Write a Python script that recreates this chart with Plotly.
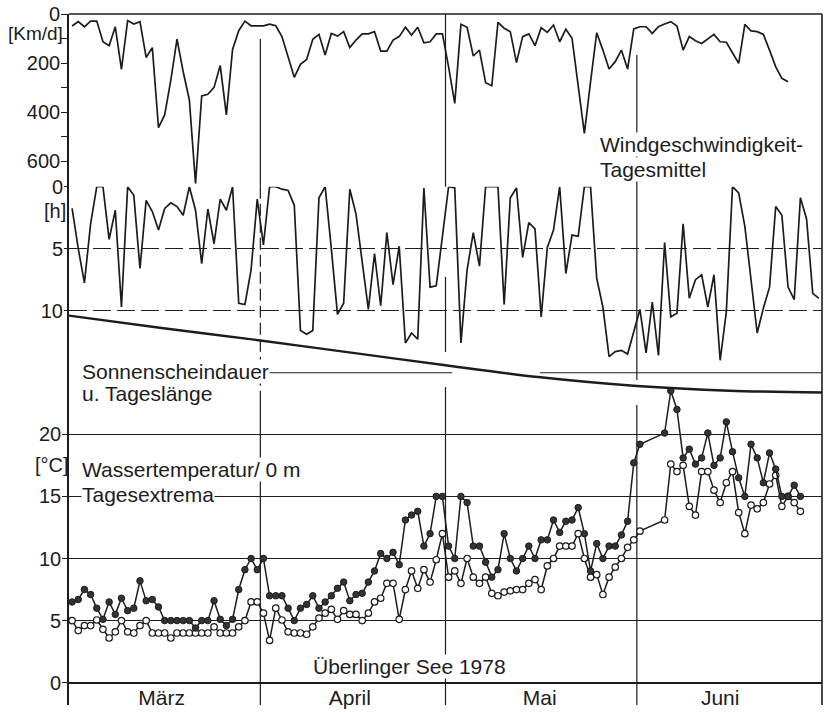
import plotly.graph_objects as go
from datetime import datetime, timedelta

W, H = 825, 712
INK = "#1c1c1c"
FONT = "Liberation Sans, Arial, sans-serif"

# ---- daily readings, one value per day from 1 March 1978 ----
first_day = datetime(1978, 3, 1, 12)

wind_km_per_day = [
    49, 31, 52, 29, 29, 113, 129, 52, 225, 27,
    41, 31, 177, 137, 463, 411, 269, 102, 235, 350,
    690, 334, 327, 299, 210, 411, 144, 68, 29, 48,
    48, 48, 41, 48, 92, 174, 258, 205, 185, 103,
    83, 167, 79, 90, 72, 137, 106, 81, 81, 72,
    151, 151, 106, 92, 54, 86, 54, 117, 113, 81,
    81, 215, 364, 42, 54, 171, 147, 280, 292, 34,
    58, 72, 198, 92, 81, 129, 56, 75, 45, 113,
    62, 99, 296, 486, 276, 76, 147, 224, 194, 147,
    224, 61, 52, 52, 79, 52, 41, 31, 49, 147,
    92, 109, 120, 103, 83, 113, 115, 158, 201, 42,
    69, 72, 83, 147, 215, 262, 276,
]

sunshine_hours = [
    1.75, 5.0, 7.75, 3.0, 0, 0, 4.25, 1.9, 9.7, 0,
    0.7, 6.6, 1.1, 2.0, 3.5, 1.75, 1.3, 1.6, 2.3, 0,
    1.9, 6.2, 1.8, 4.6, 1.0, 1.9, 0, 9.4, 9.5, 6.7,
    1.0, 4.7, 0, 0, 0.2, 0.3, 1.5, 11.6, 11.9, 11.6,
    0.9, 0, 5.0, 10.3, 9.4, 0.2, 2.2, 6.0, 9.9, 5.4,
    9.6, 3.7, 7.9, 4.8, 12.6, 11.8, 12.3, 0.1, 8.1, 8.0,
    4.0, 0, 0.1, 12.6, 6.7, 3.7, 6.4, 0, 0, 0,
    9.5, 0.9, 0.1, 5.7, 2.9, 3.4, 10.5, 4.9, 3.5, 0,
    7.0, 3.9, 4.0, 0, 0, 7.4, 9.7, 13.7, 13.3, 13.2,
    13.5, 11.8, 9.9, 13.4, 9.3, 13.6, 4.5, 10.5, 10.2, 3.0,
    9.0, 7.5, 7.1, 9.7, 7.1, 14.0, 10.1, 0, 0.5, 3.2,
    7.5, 11.8, 9.8, 8.1, 1.6, 2.3, 8.1, 9.1, 0.9, 2.6,
    8.6, 9.0,
]

water_temp_max = [
    6.5, 6.7, 7.5, 7.1, 6.0, 5.1, 6.5, 5.5, 6.8, 5.8,
    6.0, 8.2, 6.6, 6.7, 6.1, 5.0, 5.0, 5.0, 5.0, 5.0,
    4.4, 5.0, 5.0, 6.6, 5.1, 4.6, 5.1, 7.5, 9.1, 10.0,
    9.1, 10.0, 7.0, 7.0, 7.0, 6.0, 5.0, 6.0, 6.3, 7.0,
    6.0, 6.5, 7.0, 7.6, 8.1, 6.6, 7.1, 7.2, 8.1, 9.0,
    10.4, 10.0, 10.5, 9.5, 13.1, 13.5, 13.8, 11.0, 12.0, 15.0,
    15.0, 11.0, 10.0, 15.0, 14.5, 11.0, 11.0, 9.7, 8.5, 9.1,
    12.0, 10.0, 9.0, 10.0, 11.0, 10.0, 11.5, 11.5, 13.1, 12.1,
    13.0, 13.1, 14.1, 12.0, 9.0, 11.2, 10.0, 11.0, 11.0, 11.9,
    13.0, 17.7, 19.2, None, None, None, 20.1, 23.5, 22.0, 18.1,
    18.8, 17.6, 18.1, 20.1, 17.5, 18.1, 21.0, 18.6, 16.5, 15.0,
    19.2, 18.1, 16.1, 18.5, 17.2, 15.0, 15.0, 15.9, 15.0,
]

water_temp_min = [
    5.0, 4.2, 4.6, 4.6, 5.05, 4.3, 3.6, 4.1, 5.0, 4.1,
    4.0, 4.6, 5.0, 4.0, 4.0, 4.0, 3.6, 4.0, 4.0, 4.0,
    4.0, 4.0, 4.0, 4.5, 4.0, 4.0, 4.0, 4.5, 5.0, 6.5,
    6.5, 5.6, 3.4, 6.0, 5.05, 4.1, 4.0, 4.0, 3.9, 4.5,
    5.2, 5.6, 5.9, 5.1, 5.8, 5.5, 5.5, 5.0, 5.6, 6.5,
    6.8, 8.0, 8.0, 5.1, 7.5, 9.0, 7.6, 9.1, 8.1, 9.9,
    12.0, 8.5, 9.0, 8.0, 10.0, 8.5, 8.0, 8.5, 7.2, 7.0,
    7.3, 7.4, 7.5, 7.5, 8.0, 8.3, 7.5, 9.4, 10.0, 11.0,
    11.0, 11.0, 12.0, 10.0, 8.5, 8.7, 7.1, 8.5, 9.3, 10.0,
    10.9, 11.5, 12.2, None, None, None, 13.1, 17.6, 17.0, 17.5,
    14.2, 13.5, 17.0, 17.0, 15.5, 14.5, 16.1, 17.0, 13.7, 12.0,
    14.3, 14.0, 14.5, 16.0, 16.7, 14.2, 15.0, 14.5, 13.8,
]

# day length (hours) read at the start and middle of each month
day_length_dates = ["1978-03-01", "1978-03-16", "1978-04-01", "1978-04-16",
                    "1978-05-01", "1978-05-16", "1978-06-01", "1978-06-16",
                    "1978-07-01"]
day_length_hours = [10.4, 11.4, 12.4, 13.4, 14.4, 15.35, 16.07, 16.45, 16.6]

month_starts = ["1978-04-01", "1978-05-01", "1978-06-01"]
month_labels = ["März", "April", "Mai", "Juni"]
month_label_at = ["1978-03-16", "1978-04-15 12:00", "1978-05-16 06:00",
                  "1978-06-14 12:00"]

wind_ticks = [0, 100, 200, 300, 400, 500, 600]
wind_ticktext = ["0", "", "200", "", "400", "", "600"]
sun_ticks = [0, 5, 10]
temp_ticks = [0, 5, 10, 15, 20]


def days(values):
    return [first_day + timedelta(days=i) for i in range(len(values))]


# ---- page geometry (pixels) ----
X_LEFT, X_RIGHT = 69, 822
Y_TOP, Y_SPLIT, Y_ZERO, Y_BOTTOM = 14, 186.7, 682.7, 705
WIND_PX = 0.2456      # px per km/d
HOUR_PX = 12.4        # px per hour of sunshine
DEG_PX = 12.42        # px per degree C


def fx(px):
    return px / W


def fy(py):
    return 1 - py / H


fig = go.Figure()

line_style = dict(color=INK, width=1.7)

fig.add_trace(go.Scatter(x=days(wind_km_per_day), y=wind_km_per_day,
                         mode="lines", line=line_style, yaxis="y",
                         hoverinfo="skip"))
fig.add_trace(go.Scatter(x=days(sunshine_hours), y=sunshine_hours,
                         mode="lines", line=line_style, yaxis="y3",
                         hoverinfo="skip"))
fig.add_trace(go.Scatter(x=day_length_dates, y=day_length_hours,
                         mode="lines", line=dict(color=INK, width=2.4,
                                                 shape="spline", smoothing=0.8),
                         yaxis="y3", hoverinfo="skip"))
fig.add_trace(go.Scatter(x=days(water_temp_min), y=water_temp_min,
                         mode="lines+markers", connectgaps=True,
                         line=dict(color=INK, width=1.5),
                         marker=dict(symbol="circle", size=6.5, color="white",
                                     line=dict(color=INK, width=1.2)),
                         yaxis="y2", hoverinfo="skip"))
fig.add_trace(go.Scatter(x=days(water_temp_max), y=water_temp_max,
                         mode="lines+markers", connectgaps=True,
                         line=dict(color=INK, width=1.5),
                         marker=dict(symbol="circle", size=6.5, color="#333333",
                                     line=dict(color=INK, width=1)),
                         yaxis="y2", hoverinfo="skip"))

shapes = []
# frame: top edge and right edge
shapes.append(dict(type="line", xref="paper", yref="paper",
                   x0=fx(X_LEFT), x1=fx(X_RIGHT), y0=fy(Y_TOP), y1=fy(Y_TOP),
                   line=dict(color=INK, width=1.6)))
shapes.append(dict(type="line", xref="paper", yref="paper",
                   x0=fx(X_RIGHT), x1=fx(X_RIGHT), y0=fy(Y_TOP), y1=fy(Y_BOTTOM),
                   line=dict(color=INK, width=1.6)))

# month separators, drawn per panel
separator_runs = {
    "1978-04-01": [(39, Y_SPLIT, "solid"), (Y_SPLIT, 395, "dash"), (395, Y_BOTTOM, "solid")],
    "1978-05-01": [(Y_TOP, Y_SPLIT, "solid"), (277, 352, "solid"), (387, Y_BOTTOM, "solid")],
    "1978-06-01": [(55, 380, "solid"), (405, Y_BOTTOM, "solid")],
}
for m in month_starts:
    for y0, y1, dash in separator_runs[m]:
        shapes.append(dict(type="line", xref="x", yref="paper", x0=m, x1=m,
                           y0=fy(y0), y1=fy(y1), layer="below",
                           line=dict(color=INK, width=1.2,
                                     dash="12px,5px" if dash == "dash" else "solid")))

# 15 h reference line next to the sunshine label
for xa, xb in [(268, 452), (540, X_RIGHT)]:
    shapes.append(dict(type="line", xref="paper", yref="y3", x0=fx(xa), x1=fx(xb),
                       y0=15, y1=15, layer="below",
                       line=dict(color=INK, width=1.1)))

annotations = []


def label(text, x, y, size=21, anchor="left", bg=None):
    annotations.append(dict(text=text, xref="paper", yref="paper",
                            x=fx(x), y=fy(y), xanchor=anchor, yanchor="middle",
                            showarrow=False, borderpad=0,
                            bgcolor=bg if bg else "rgba(0,0,0,0)",
                            font=dict(family=FONT, size=size, color=INK)))


label("[Km/d]", 35, 33, size=19, anchor="center")
label("[h]", 55, 211, size=20, anchor="center")
label("[°C]", 52, 465, size=20, anchor="center")
label("Windgeschwindigkeit-", 599, 144, bg="white")
label("Tagesmittel", 599, 169, bg="white")
label("Sonnenscheindauer", 81, 371, bg="white")
label("u. Tageslänge", 81, 393, bg="white")
label("Wassertemperatur/ 0 m", 81, 469, bg="white")
label("Tagesextrema", 81, 494, bg="white")
label("Überlinger See 1978", 409, 666, anchor="center", bg="white")

axis_common = dict(showline=True, linecolor=INK, linewidth=1.6, zeroline=False,
                   tickfont=dict(family=FONT, size=20, color=INK),
                   tickcolor=INK, tickwidth=1.4, anchor="x", automargin=False,
                   ticklabelstandoff=-3)

fig.update_layout(
    width=W, height=H,
    margin=dict(l=0, r=0, t=0, b=0, pad=0, autoexpand=False),
    paper_bgcolor="white", plot_bgcolor="white",
    showlegend=False,
    font=dict(family=FONT, color=INK),
    shapes=shapes,
    annotations=annotations,
    xaxis=dict(type="date", domain=[fx(X_LEFT), fx(X_RIGHT)],
               range=["1978-03-01", "1978-07-01"],
               anchor="free", position=fy(Y_ZERO), automargin=False,
               showline=True, linecolor=INK, linewidth=1.6,
               showgrid=False, zeroline=False,
               tickmode="array", tickvals=month_label_at, ticktext=month_labels,
               ticks="", ticklabelstandoff=-4,
               tickfont=dict(family=FONT, size=21, color=INK)),
    yaxis=dict(domain=[fy(Y_SPLIT), fy(Y_TOP)],
               range=[(Y_SPLIT - Y_TOP) / WIND_PX, 0],
               tickmode="array", tickvals=wind_ticks, ticktext=wind_ticktext,
               ticks="outside", ticklen=6, showgrid=False, **axis_common),
    yaxis2=dict(domain=[fy(Y_BOTTOM), fy(Y_SPLIT)],
                range=[-(Y_BOTTOM - Y_ZERO) / DEG_PX, (Y_ZERO - Y_SPLIT) / DEG_PX],
                tickmode="array", tickvals=temp_ticks,
                ticks="outside", ticklen=5,
                showgrid=True, gridcolor=INK, gridwidth=1, **axis_common),
    yaxis3=dict(overlaying="y2", side="left",
                range=[(Y_BOTTOM - Y_SPLIT) / HOUR_PX, 0],
                tickmode="array", tickvals=sun_ticks,
                ticks="outside", ticklen=4,
                showgrid=True, gridcolor=INK, gridwidth=1, griddash="18px,6px",
                showline=False, zeroline=False, anchor="x", automargin=False,
                ticklabelstandoff=-3,
                tickfont=dict(family=FONT, size=20, color=INK),
                tickcolor=INK, tickwidth=1.4),
)

fig.write_html("out.html")
